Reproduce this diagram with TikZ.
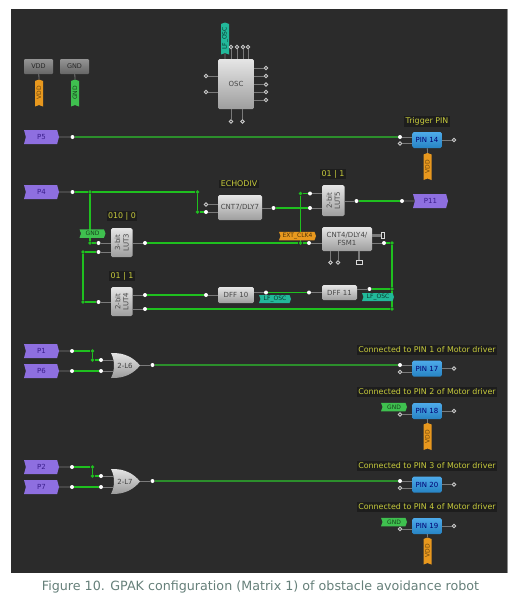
\documentclass[tikz,border=0pt]{standalone}
\usepackage{fontspec}
\setmainfont{DejaVu Sans}
\usetikzlibrary{shapes.symbols,shapes.geometric}
\definecolor{panel}{HTML}{2B2B2B}
\definecolor{wirebright}{HTML}{1FC01F}
\definecolor{wiredark}{HTML}{2C8F2C}
\definecolor{stubgray}{HTML}{7A7A7A}
\definecolor{purpletag}{HTML}{8E6FE0}
\definecolor{purpletext}{HTML}{3A1E8C}
\definecolor{orangetag}{HTML}{E8981E}
\definecolor{greentag}{HTML}{3FC04F}
\definecolor{tealtag}{HTML}{22B89A}
\definecolor{bluepin}{HTML}{2E9BE6}
\definecolor{labelyellow}{HTML}{C8CC3C}
\definecolor{labelback}{HTML}{1D1D1D}
\definecolor{captioncolor}{HTML}{66807A}
\tikzset{
  gbox/.style={rectangle,rounded corners=1.5pt,top color=white!90!black,bottom color=white!62!black,inner sep=0pt,text=black!72,font=\fontsize{7}{8}\selectfont,align=center},
  rail/.style={rectangle,rounded corners=1pt,top color=white!58!black,bottom color=white!40!black,inner sep=0pt,minimum width=29pt,minimum height=15pt,text=black!85,font=\fontsize{6.5}{7}\selectfont},
  ptag/.style={signal,signal from=west,signal to=east,signal pointer angle=150,fill=purpletag,inner sep=0pt,minimum width=35pt,minimum height=14pt,text=purpletext,font=\fontsize{7}{8}\selectfont},
  vtag/.style={signal,signal from=west,signal to=east,signal pointer angle=140,fill=#1,inner sep=0pt,font=\fontsize{6}{7}\selectfont},
  vddtag/.style={vtag=orangetag,minimum width=27pt,minimum height=8pt,text=orangetag!45!black,rotate=90},
  gndtagv/.style={vtag=greentag,minimum width=27pt,minimum height=8pt,text=greentag!35!black,rotate=90},
  gndtagh/.style={vtag=greentag,minimum width=26pt,minimum height=8.5pt,text=greentag!35!black},
  lftag/.style={vtag=tealtag,minimum width=32pt,minimum height=8pt,text=tealtag!30!black},
  clktag/.style={vtag=orangetag,minimum width=37pt,minimum height=8.5pt,text=orangetag!35!black},
  pinbox/.style={rectangle,rounded corners=1.5pt,top color=bluepin!85!white,bottom color=bluepin!85!black,inner sep=0pt,minimum width=29.5pt,minimum height=16pt,text=blue!45!black,font=\fontsize{7}{8}\selectfont},
  note/.style={fill=labelback,text=labelyellow,inner sep=1.5pt,font=\fontsize{7.9}{9}\selectfont},
  dot/.style={circle,fill=white,inner sep=0pt,minimum size=4pt},
  ring/.style={circle,draw=white!80!black,fill=panel,line width=.8pt,inner sep=0pt,minimum size=3.6pt},
  junc/.style={circle,fill=wirebright,inner sep=0pt,minimum size=3.8pt},
  wire/.style={draw=wirebright,line width=1.3pt},
  longwire/.style={draw=wiredark,line width=1.2pt},
  stub/.style={draw=stubgray,line width=.8pt},
  thickstub/.style={draw=stubgray,line width=2.2pt},
  sq/.style={rectangle,draw=white!85!black,fill=panel,line width=.7pt,inner sep=0pt},
  orlabel/.style={text=black!75,font=\fontsize{7}{8}\selectfont,inner sep=0pt},
}
\begin{document}
\begin{tikzpicture}[x=1pt,y=-1pt]
\useasboundingbox (0,0) rectangle (518,600);
\fill[white] (0,0) rectangle (518,600);
\fill[panel] (11,9) rectangle (508,572.5);
\fill[white!55!black] (507.4,9) rectangle (508.4,572.5);
% OR gates
\shade[top color=white!90!black,bottom color=white!60!black] (111,353) .. controls (125,352.5) and (134,358) .. (140,365.5) .. controls (134,373) and (125,378.5) .. (111,378) .. controls (115,370) and (115,361) .. (111,353) -- cycle;
\shade[top color=white!90!black,bottom color=white!60!black] (111,469) .. controls (125,468.5) and (134,474) .. (140,481.5) .. controls (134,489) and (125,494.5) .. (111,494) .. controls (115,486) and (115,477) .. (111,469) -- cycle;
\node[orlabel] (or1) at (125,365.5) {2-L6};
\node[orlabel] (or2) at (125,481.5) {2-L7};
% rails
\node[rail] (vdd) at (38.5,66.5) {VDD};
\node[rail] (gnd) at (74.5,66.5) {GND};
\node[vddtag] (vddt) at (39,93) {VDD};
\node[gndtagv] (gndt) at (75,93) {GND};
% OSC
\node[gbox,minimum width=36pt,minimum height=50pt] (osc) at (236,84) {OSC};
\node[lftag,rotate=90] (lftop) at (225,38.5) {LF\_OSC};
\node[ring] (ol1) at (206,76) {};
\node[ring] (ol2) at (206,92) {};
\node[ring] (ot1) at (231,47) {};
\node[ring] (ot2) at (237,47) {};
\node[ring] (ot3) at (243,47) {};
\node[ring] (ot4) at (248,47) {};
\node[ring] (ob1) at (231,121.5) {};
\node[ring] (ob2) at (242.5,121.5) {};
\node[ring] (or_1) at (266,68) {};
\node[ring] (or_2) at (266,76) {};
\node[ring] (or_3) at (266,84.5) {};
\node[ring] (or_4) at (266,92) {};
\node[ring] (or_5) at (266,100) {};
% ports
\node[ptag] (p5) at (41.5,137) {P5};
\node[ptag] (p4) at (41.5,192) {P4};
\node[ptag] (p1) at (41.5,351) {P1};
\node[ptag] (p6) at (41.5,371) {P6};
\node[ptag] (p2) at (41.5,467) {P2};
\node[ptag] (p7) at (41.5,487) {P7};
\node[ptag] (p11) at (430.5,201) {P11};
% output pins
\node[pinbox] (pin14) at (427,140) {PIN 14};
\node[pinbox] (pin17) at (427,368.5) {PIN 17};
\node[pinbox] (pin18) at (427,411) {PIN 18};
\node[pinbox] (pin20) at (427,484.5) {PIN 20};
\node[pinbox] (pin19) at (427,526) {PIN 19};
\node[note] (t14) at (427,121.5) {Trigger PIN};
\node[note] (t17) at (427,350) {Connected to PIN 1 of Motor driver};
\node[note] (t18) at (427,392) {Connected to PIN 2 of Motor driver};
\node[note] (t20) at (427,466) {Connected to PIN 3 of Motor driver};
\node[note] (t19) at (427,507) {Connected to PIN 4 of Motor driver};
\node[vddtag] (v14) at (427.5,166.5) {VDD};
\node[vddtag] (v18) at (427.5,436.5) {VDD};
\node[vddtag] (v19) at (427.5,551) {VDD};
\node[gndtagh] (g18) at (394,407) {GND};
\node[gndtagh] (g19) at (394,522) {GND};
% logic blocks
\node[gbox,minimum width=44pt,minimum height=25pt] (cnt7) at (240,207.5) {CNT7/DLY7};
\node[gbox,minimum width=21.5pt,minimum height=29pt] (lut3) at (121.75,242.5) {\rotatebox{90}{\shortstack{3-bit\\LUT3}}};
\node[gbox,minimum width=21.5pt,minimum height=29pt] (lut4) at (121.75,301.5) {\rotatebox{90}{\shortstack{2-bit\\LUT4}}};
\node[gbox,minimum width=22.5pt,minimum height=31pt] (lut5) at (333.25,200.5) {\rotatebox{90}{\shortstack{2-bit\\LUT5}}};
\node[gbox,minimum width=50pt,minimum height=24pt] (cnt4) at (347,239) {CNT4/DLY4/\\FSM1};
\node[gbox,minimum width=36pt,minimum height=16pt] (dff10) at (236,295) {DFF 10};
\node[gbox,minimum width=35pt,minimum height=15pt] (dff11) at (339.5,292.5) {DFF 11};
\node[note] (t5) at (333,174) {01 | 1};
\node[note] (te) at (239,184) {ECHODIV};
\node[note] (t3) at (122,216) {010 | 0};
\node[note] (t4) at (122,276) {01 | 1};
% pins
\node[dot] (d5) at (72.5,137) {};
\node[dot] (d14a) at (400,137) {};
\node[ring] (d14b) at (400,143.5) {};
\node[ring] (d14c) at (454,140) {};
\node[dot] (d4) at (72.5,192) {};
\node[junc] (j4a) at (90,192) {};
\node[junc] (j4b) at (197.5,192) {};
\node[junc] (j4c) at (197.5,212) {};
\node[dot] (c7b) at (206,212) {};
\node[ring] (c7a) at (206,204.5) {};
\node[dot] (c7o) at (273.5,208) {};
\node[junc] (j3a) at (90,243) {};
\node[dot] (l3a) at (98.5,243) {};
\node[junc] (j3b) at (83,252) {};
\node[dot] (l3b) at (98.5,252) {};
\node[dot] (l3o) at (145,243) {};
\node[junc] (j4d) at (83,302) {};
\node[dot] (l4a) at (98.5,302) {};
\node[dot] (l4o1) at (145,295) {};
\node[dot] (l4o2) at (145,309) {};
\node[dot] (d10i) at (206,295) {};
\node[dot] (d10o) at (266,292.5) {};
\node[dot] (d11i) at (309,292.5) {};
\node[dot] (d11o) at (369.5,289) {};
\node[junc] (j11) at (392,289) {};
\node[junc] (jb) at (392,309) {};
\node[junc] (jt) at (392,243) {};
\node[dot] (c4o) at (384,243) {};
\node[dot] (c4i) at (309,243) {};
\node[junc] (jc) at (300.5,243) {};
\node[junc] (jl) at (300.5,193.5) {};
\node[dot] (l5a) at (310,193.5) {};
\node[dot] (l5b) at (310,208) {};
\node[dot] (l5o) at (356.5,201) {};
\node[dot] (p11i) at (402,201) {};
\node[ring] (c4b1) at (330.5,262.5) {};
\node[ring] (c4b2) at (338,262.5) {};
\node[sq,minimum width=6pt,minimum height=3.5pt] (c4s) at (359,262.5) {};
\node[sq,minimum width=3.5pt,minimum height=6pt] (c4r) at (383,235.5) {};
\node[dot] (d1) at (72,351) {};
\node[junc] (j1a) at (92.5,351) {};
\node[junc] (j1b) at (92.5,360) {};
\node[dot] (o1a) at (101,360) {};
\node[dot] (d6) at (72,371) {};
\node[dot] (o1b) at (101,371) {};
\node[dot] (o1o) at (152.5,365) {};
\node[dot] (d2) at (72,467) {};
\node[junc] (j2a) at (92.5,467) {};
\node[junc] (j2b) at (92.5,476) {};
\node[dot] (o2a) at (101,476) {};
\node[dot] (d7) at (72,487) {};
\node[dot] (o2b) at (101,487) {};
\node[dot] (o2o) at (152.5,481) {};
\node[dot] (d17a) at (400,365) {};
\node[ring] (d17b) at (400,372) {};
\node[ring] (d17c) at (454,368.5) {};
\node[ring] (d18b) at (400,414.5) {};
\node[ring] (d18c) at (454,411) {};
\node[dot] (d20a) at (400,481) {};
\node[ring] (d20b) at (400,488) {};
\node[ring] (d20c) at (454,484.5) {};
\node[ring] (d19b) at (400,529) {};
\node[ring] (d19c) at (454,526) {};
% gray stubs
\draw[stub] (vdd) -- (vddt.east) (gnd) -- (gndt.east);
\draw[stub] (lftop) -- (lftop |- osc.north);
\foreach \a in {ot1,ot2,ot3,ot4} \draw[stub] (\a) -- (\a |- osc.north);
\foreach \a in {ob1,ob2} \draw[stub] (\a) -- (\a |- osc.south);
\foreach \a in {ol1,ol2} \draw[stub] (\a) -- (\a -| osc.west);
\foreach \a in {or_1,or_2,or_3,or_4,or_5} \draw[stub] (\a) -- (\a -| osc.east);
\draw[stub] (p5) -- (d5) (p4) -- (d4) (p1) -- (d1) (p6) -- (d6) (p2) -- (d2) (p7) -- (d7) (p11i) -- (p11);
\foreach \a/\b in {d14a/pin14,d14b/pin14,d17a/pin17,d17b/pin17,d18b/pin18,d20a/pin20,d20b/pin20,d19b/pin19} \draw[stub] (\a) -- (\a -| \b.west);
\foreach \a/\b in {d14c/pin14,d17c/pin17,d18c/pin18,d20c/pin20,d19c/pin19} \draw[stub] (\a) -- (\a -| \b.east);
\draw[stub] (pin14) -- (v14.east) (pin18) -- (v18.east) (pin19) -- (v19.east);
\foreach \a/\b in {c7a/cnt7,c7b/cnt7,l3a/lut3,l3b/lut3,l4a/lut4,l5a/lut5,l5b/lut5,d10i/dff10,d11i/dff11,c4i/cnt4} \draw[stub] (\a) -- (\a -| \b.west);
\foreach \a/\b in {c7o/cnt7,l3o/lut3,l4o1/lut4,l4o2/lut4,l5o/lut5,d10o/dff10,d11o/dff11,c4o/cnt4} \draw[stub] (\a) -- (\a -| \b.east);
\foreach \a in {c4b1,c4b2} \draw[stub] (\a) -- (\a |- cnt4.south);
\draw[thickstub] (c4s) -- (c4s |- cnt4.south);
\draw[thickstub] (c4r) -- (c4r -| cnt4.east);
\foreach \a in {o1a,o1b,o2a,o2b} \draw[stub] (\a) -- ++(12,0);
\draw[stub] (o1o) -- ++(-13,0) (o2o) -- ++(-13,0);
% wires
\draw[longwire] (d5) -- (d14a);
\draw[longwire] (o1o) -- (d17a);
\draw[longwire] (o2o) -- (d20a);
\draw[wire] (d4) -- (j4a) -- (j4b) -- (j4c) -- (c7b);
\draw[wire] (j4a) -- (j3a) -- (l3a);
\draw[wire] (l3b) -- (j3b) -- (j4d) -- (l4a);
\draw[wire] (l3o) -- (jc) -- (c4i);
\draw[wire] (jc) -- (jl) -- (l5a);
\draw[wire] (c7o) -- (l5b);
\draw[wire] (l5o) -- (p11i);
\draw[wire] (c4o) -- (jt) -- (j11) -- (jb) -- (l4o2);
\draw[wire] (l4o1) -- (d10i);
\draw[wire] (d10o) -- (d11i);
\draw[wire] (d11o) -- (j11);
\draw[wire] (d1) -- (j1a) -- (j1b) -- (o1a);
\draw[wire] (d6) -- (o1b);
\draw[wire] (d2) -- (j2a) -- (j2b) -- (o2a);
\draw[wire] (d7) -- (o2b);
% tags drawn over the wires
\node[gndtagh] (g3) at (92.5,233.5) {GND};
\node[clktag] (clk) at (297.5,236) {EXT\_CLK4};
\node[lftag] (lf10) at (275,299) {LF\_OSC};
\node[lftag] (lf11) at (378,297) {LF\_OSC};
% caption
\node[text=captioncolor,font=\fontsize{12.7}{14}\selectfont,inner sep=0pt] (cap) at (260.5,587) {Figure 10. GPAK configuration (Matrix 1) of obstacle avoidance robot};
\end{tikzpicture}
\end{document}
